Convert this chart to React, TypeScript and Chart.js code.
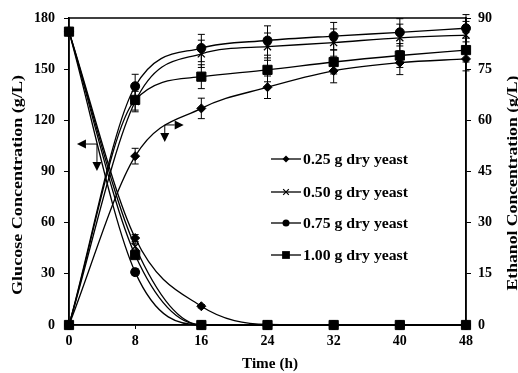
import React, { useEffect, useRef } from "react";
import { Chart, registerables } from "chart.js";

Chart.register(...registerables);

const times = [0, 8, 16, 24, 32, 40, 48];
const seriesLabels = ["0.25 g dry yeast", "0.50 g dry yeast", "0.75 g dry yeast", "1.00 g dry yeast"];
const pointStyles = ["rectRot", "crossRot", "circle", "rect"];
const pointSizes = [4.5, 5, 4.5, 6.5];

const glucose025 = [172, 51, 11, 0.3, 0, 0, 0];
const glucose050 = [172, 46, 0, 0, 0, 0, 0];
const glucose075 = [172, 31, 0, 0, 0, 0, 0];
const glucose100 = [172, 41, 0, 0, 0, 0, 0];

const glucoseErr025 = [1, 2, 1, 0, 0, 0, 0];
const glucoseErr050 = [1, 2, 0, 0, 0, 0, 0];
const glucoseErr075 = [1, 2, 0, 0, 0, 0, 0];
const glucoseErr100 = [1, 2, 0, 0, 0, 0, 0];

const ethanol025 = [0, 49.5, 63.5, 69.7, 74.5, 76.9, 78];
const ethanol050 = [0, 65.5, 79.5, 81.6, 82.8, 84.2, 85];
const ethanol075 = [0, 70, 81.2, 83.4, 84.7, 85.8, 87];
const ethanol100 = [0, 66, 72.8, 74.8, 77.1, 79, 80.6];

const ethanolErr025 = [0, 2.3, 3, 3.3, 3.5, 3.5, 3.5];
const ethanolErr050 = [0, 3, 4, 4, 4, 4, 4];
const ethanolErr075 = [0, 3.5, 4, 4.3, 4, 4, 4];
const ethanolErr100 = [0, 3, 3.5, 3.5, 3.5, 3.5, 3.5];

const leftTicks = [0, 30, 60, 90, 120, 150, 180];
const rightTicks = [0, 15, 30, 45, 60, 75, 90];

// arrows in data coordinates (time, glucose-scale value): corner, horizontal tip, vertical tip
const arrowCornerX = [3.38, 11.58];
const arrowCornerY = [106.1, 117.3];
const arrowTipX = [0.96, 13.87];
const arrowTipY = [90.3, 107.3];

const FONT = "'Liberation Serif', 'Times New Roman', serif";

function drawMarker(ctx: CanvasRenderingContext2D, style: string, x: number, y: number, r: number) {
  ctx.save();
  ctx.fillStyle = "#000";
  ctx.strokeStyle = "#000";
  ctx.lineWidth = 1.2;
  ctx.beginPath();
  if (style === "circle") {
    ctx.arc(x, y, r, 0, Math.PI * 2);
    ctx.fill();
  } else if (style === "rect") {
    const s = r * Math.SQRT1_2;
    ctx.rect(x - s, y - s, 2 * s, 2 * s);
    ctx.fill();
  } else if (style === "rectRot") {
    ctx.moveTo(x, y - r);
    ctx.lineTo(x + r, y);
    ctx.lineTo(x, y + r);
    ctx.lineTo(x - r, y);
    ctx.closePath();
    ctx.fill();
  } else {
    const s = r * Math.SQRT1_2;
    ctx.moveTo(x - s, y - s);
    ctx.lineTo(x + s, y + s);
    ctx.moveTo(x + s, y - s);
    ctx.lineTo(x - s, y + s);
    ctx.stroke();
  }
  ctx.restore();
}

function drawTitle(ctx: CanvasRenderingContext2D, text: string, x: number, y: number, rot: number, len: number) {
  ctx.save();
  ctx.translate(x, y);
  ctx.rotate(rot);
  const w = ctx.measureText(text).width;
  ctx.scale(len / w, 1);
  ctx.fillText(text, 0, 0);
  ctx.restore();
}

const extrasPlugin = {
  id: "extras",
  beforeDatasetsDraw(chart: any) {
    const ctx = chart.ctx as CanvasRenderingContext2D;
    const xs = chart.scales.x;
    ctx.save();
    ctx.strokeStyle = "#000";
    ctx.lineWidth = 1;
    chart.data.datasets.forEach((ds: any) => {
      const sc = chart.scales[ds.yAxisID];
      const errs: number[] = ds.errors || [];
      ds.data.forEach((v: number, i: number) => {
        const e = errs[i] || 0;
        if (!e) return;
        const px = xs.getPixelForValue(times[i]);
        const y1 = sc.getPixelForValue(v + e);
        const y2 = sc.getPixelForValue(Math.max(0, v - e));
        ctx.beginPath();
        ctx.moveTo(px, y1);
        ctx.lineTo(px, y2);
        ctx.moveTo(px - 3.5, y1);
        ctx.lineTo(px + 3.5, y1);
        ctx.moveTo(px - 3.5, y2);
        ctx.lineTo(px + 3.5, y2);
        ctx.stroke();
      });
    });
    ctx.restore();
  },
  afterDraw(chart: any) {
    const ctx = chart.ctx as CanvasRenderingContext2D;
    const area = chart.chartArea;
    const xs = chart.scales.x;
    const ys = chart.scales.y;
    ctx.save();
    // frame
    ctx.strokeStyle = "#000";
    ctx.lineWidth = 1.5;
    ctx.strokeRect(area.left, area.top, area.right - area.left, area.bottom - area.top);

    // arrows
    ctx.lineWidth = 1;
    ctx.fillStyle = "#000";
    for (let i = 0; i < arrowCornerX.length; i++) {
      const cx = xs.getPixelForValue(arrowCornerX[i]);
      const cy = ys.getPixelForValue(arrowCornerY[i]);
      const tx = xs.getPixelForValue(arrowTipX[i]);
      const ty = ys.getPixelForValue(arrowTipY[i]);
      const dir = tx < cx ? -1 : 1;
      const hl = 9;
      const hw = 4.5;
      ctx.beginPath();
      ctx.moveTo(cx, cy);
      ctx.lineTo(tx - dir * hl, cy);
      ctx.moveTo(cx, cy);
      ctx.lineTo(cx, ty - hl);
      ctx.stroke();
      ctx.beginPath();
      ctx.moveTo(tx, cy);
      ctx.lineTo(tx - dir * hl, cy - hw);
      ctx.lineTo(tx - dir * hl, cy + hw);
      ctx.closePath();
      ctx.fill();
      ctx.beginPath();
      ctx.moveTo(cx, ty);
      ctx.lineTo(cx - hw, ty - hl);
      ctx.lineTo(cx + hw, ty - hl);
      ctx.closePath();
      ctx.fill();
    }

    // legend
    const lx1 = 271;
    const lx2 = 301;
    const ly = [159, 192, 223, 255];
    ctx.font = `bold 14px ${FONT}`;
    ctx.textBaseline = "middle";
    seriesLabels.forEach((lab, i) => {
      ctx.strokeStyle = "#000";
      ctx.lineWidth = 1.3;
      ctx.beginPath();
      ctx.moveTo(lx1, ly[i]);
      ctx.lineTo(lx2, ly[i]);
      ctx.stroke();
      drawMarker(ctx, pointStyles[i], (lx1 + lx2) / 2, ly[i], [3.5, 4, 3.5, 5.5][i]);
      ctx.fillStyle = "#000";
      ctx.textAlign = "left";
      drawTitle(ctx, lab, 303, ly[i] + 1, 0, 105);
    });

    // axis titles
    ctx.font = `bold 14px ${FONT}`;
    ctx.textAlign = "center";
    ctx.fillStyle = "#000";
    drawTitle(ctx, "Time (h)", 270, 364, 0, 56);
    drawTitle(ctx, "Glucose Concentration (g/L)", 18, 185, -Math.PI / 2, 220);
    drawTitle(ctx, "Ethanol Concentration (g/L)", 513, 183, -Math.PI / 2, 215);
    ctx.restore();
  },
};

export default function App() {
  const ref = useRef<HTMLCanvasElement | null>(null);
  useEffect(() => {
    document.body.style.margin = "0";
    const glucose = [glucose025, glucose050, glucose075, glucose100];
    const glucoseErr = [glucoseErr025, glucoseErr050, glucoseErr075, glucoseErr100];
    const ethanol = [ethanol025, ethanol050, ethanol075, ethanol100];
    const ethanolErr = [ethanolErr025, ethanolErr050, ethanolErr075, ethanolErr100];
    const mk = (data: number[], errs: number[], i: number, axis: string, kind: string) => ({
      label: `${kind} ${seriesLabels[i]}`,
      data,
      errors: errs,
      yAxisID: axis,
      borderColor: "#000",
      backgroundColor: "#000",
      borderWidth: 1.3,
      pointStyle: pointStyles[i],
      pointRadius: pointSizes[i],
      pointBorderWidth: i === 1 ? 1.3 : 1,
      pointBackgroundColor: "#000",
      pointBorderColor: "#000",
      cubicInterpolationMode: "monotone",
      fill: false,
      clip: false,
    });
    const datasets: any[] = [];
    for (let i = 0; i < 4; i++) datasets.push(mk(ethanol[i], ethanolErr[i], i, "y1", "Ethanol"));
    for (let i = 0; i < 4; i++) datasets.push(mk(glucose[i], glucoseErr[i], i, "y", "Glucose"));

    const tickFont = { family: FONT, size: 14, weight: "bold" as const };
    const chart = new Chart(ref.current as HTMLCanvasElement, {
      type: "line",
      data: { labels: times, datasets },
      options: {
        responsive: false,
        animation: false,
        layout: { padding: { top: 18, left: 0, right: 0, bottom: 0 } },
        plugins: { legend: { display: false }, tooltip: { enabled: false } },
        scales: {
          x: {
            type: "linear",
            min: 0,
            max: 48,
            afterFit: (s: any) => { s.height = 48; },
            afterBuildTicks: (s: any) => { s.ticks = times.map((v) => ({ value: v })); },
            ticks: { color: "#000", font: tickFont, padding: 4, maxRotation: 0 },
            grid: { drawOnChartArea: false, drawTicks: true, tickLength: 4, color: "#000" },
            border: { color: "#000", width: 1.5 },
          },
          y: {
            position: "left",
            min: 0,
            max: 180,
            afterFit: (s: any) => { s.width = 69; },
            afterBuildTicks: (s: any) => { s.ticks = leftTicks.map((v) => ({ value: v })); },
            ticks: { color: "#000", font: tickFont, padding: 9 },
            grid: { drawOnChartArea: false, drawTicks: true, tickLength: 5, color: "#000" },
            border: { color: "#000", width: 1.5 },
          },
          y1: {
            position: "right",
            min: 0,
            max: 90,
            afterFit: (s: any) => { s.width = 52; },
            afterBuildTicks: (s: any) => { s.ticks = rightTicks.map((v) => ({ value: v })); },
            ticks: { color: "#000", font: tickFont, padding: 7 },
            grid: { drawOnChartArea: false, drawTicks: true, tickLength: 5, color: "#000" },
            border: { color: "#000", width: 1.5 },
          },
        },
      } as any,
      plugins: [extrasPlugin],
    });
    return () => chart.destroy();
  }, []);
  return <canvas ref={ref} width={518} height={373} style={{ display: "block" }} />;
}
